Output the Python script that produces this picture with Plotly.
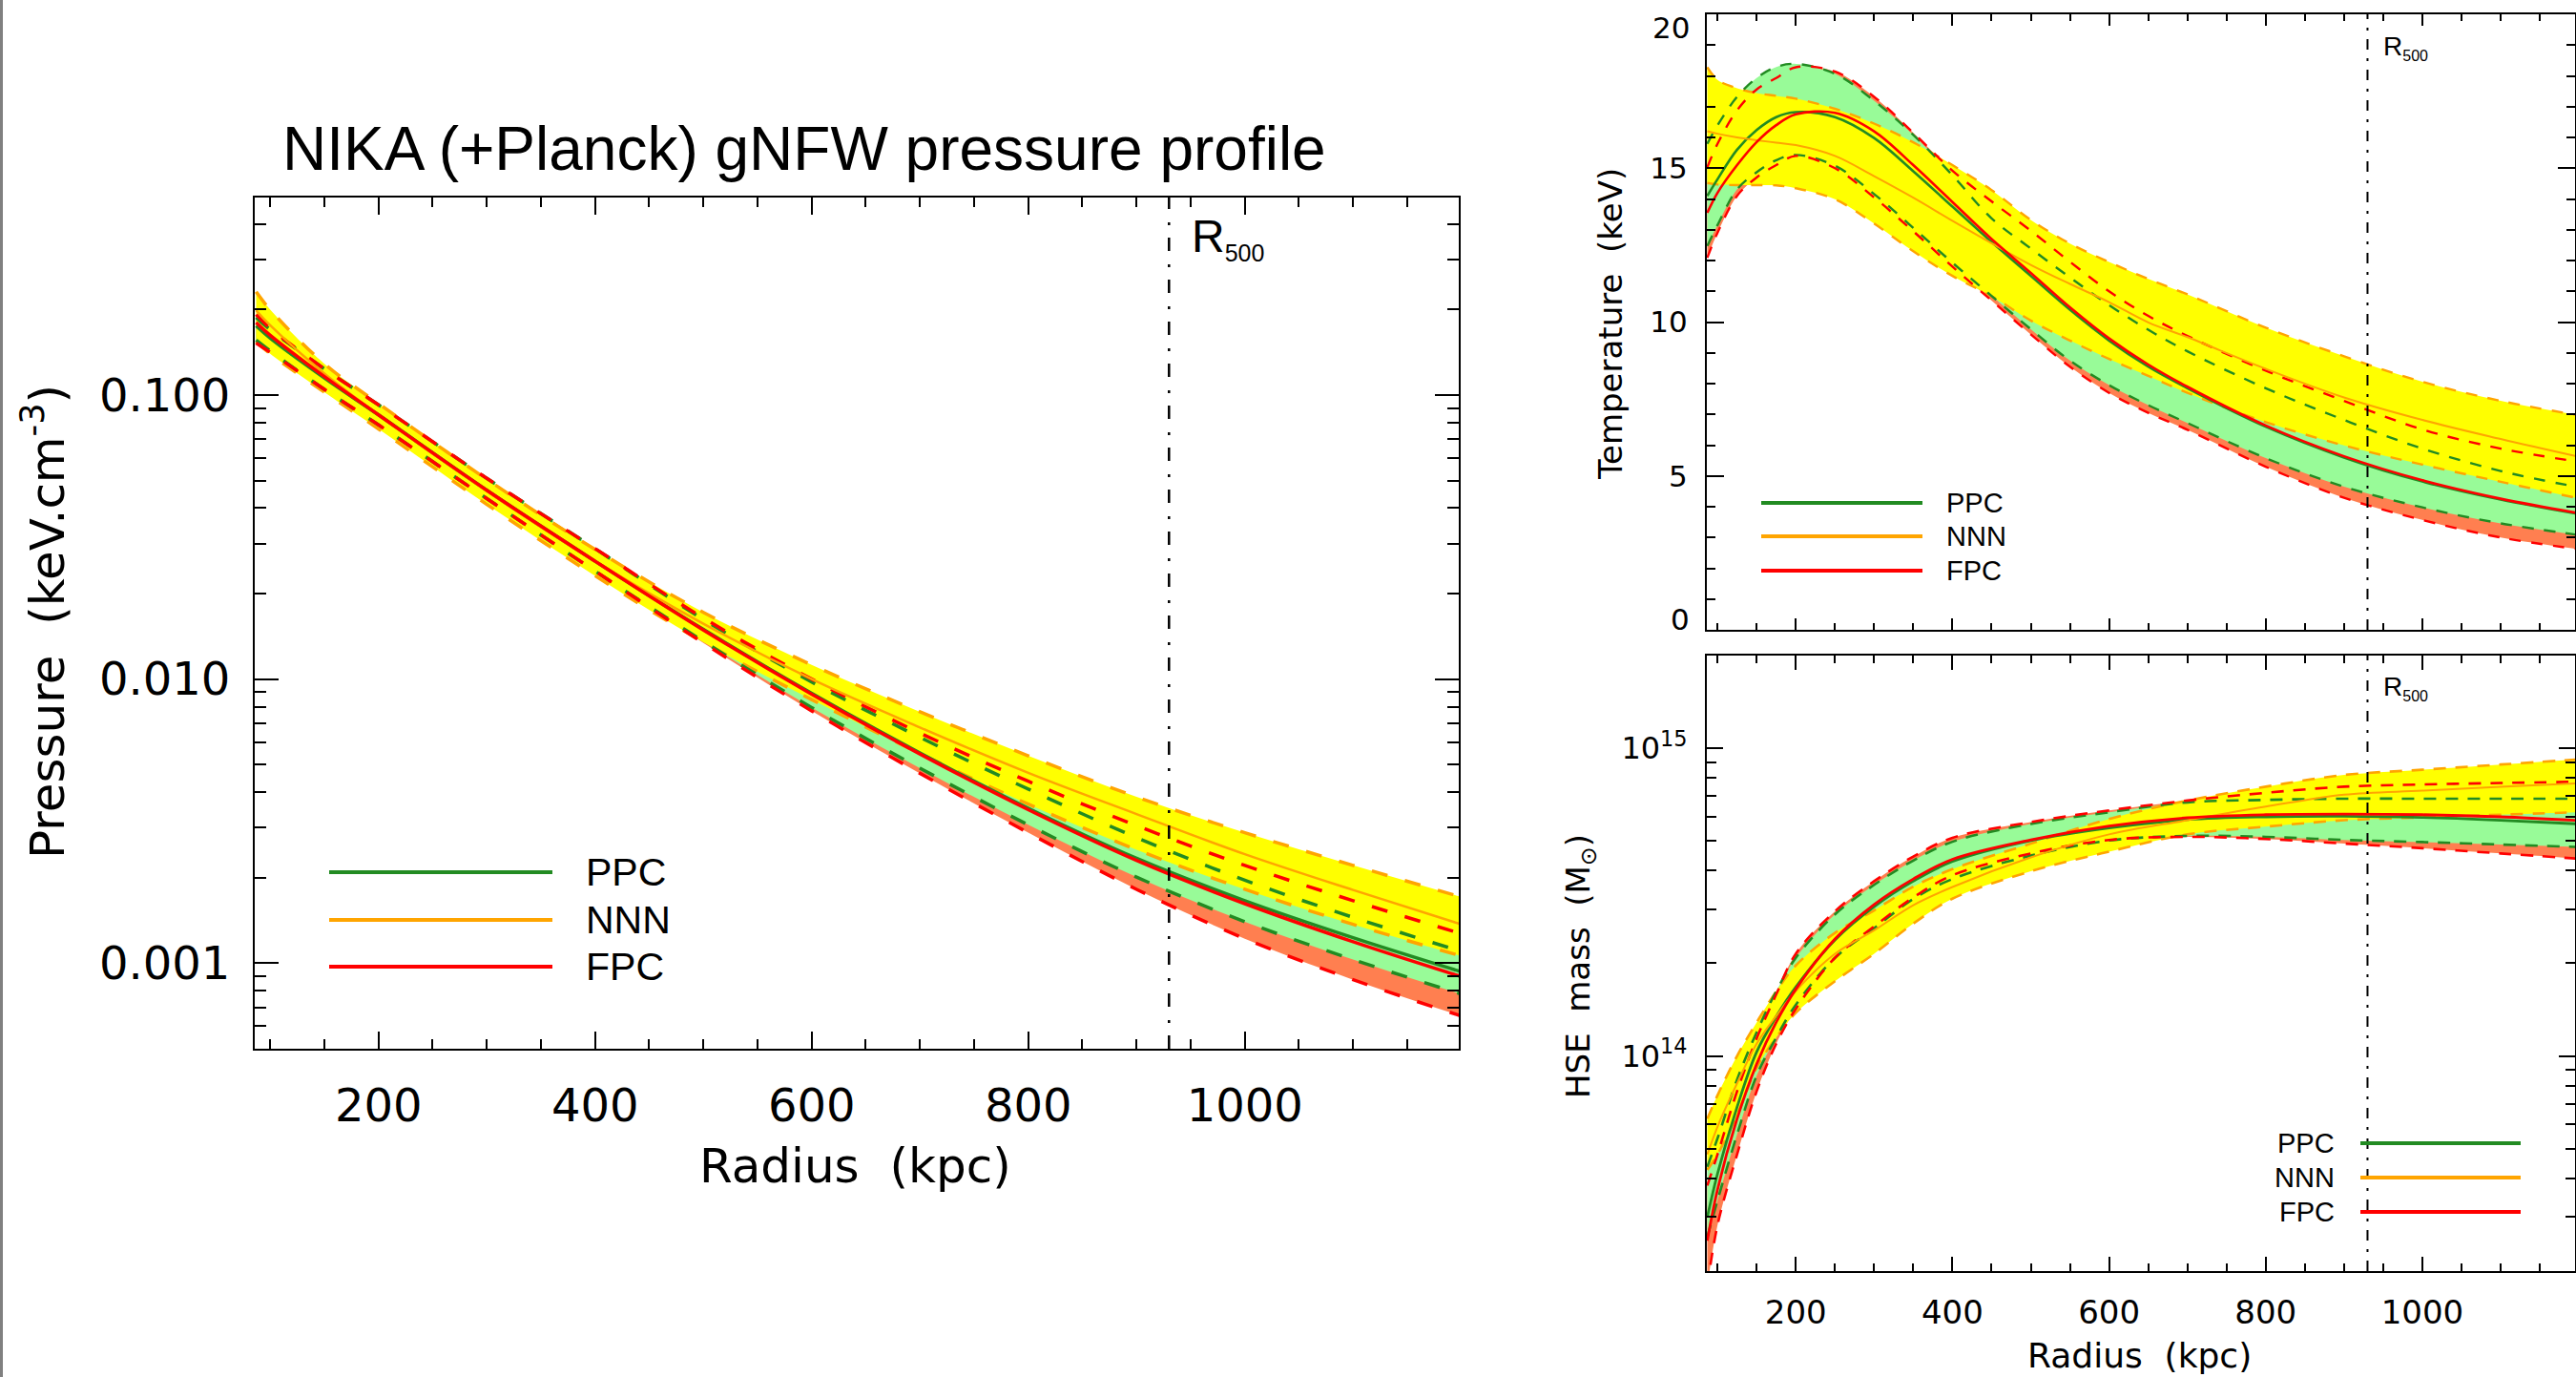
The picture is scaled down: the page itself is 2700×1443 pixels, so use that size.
import plotly.graph_objects as go

W, H = 2700, 1443

# ---------------- data ----------------
# Pressure profile (keV cm^-3)
radius_p = [87, 100, 150, 200, 300, 400, 500, 600, 700, 800, 900, 1000, 1100, 1200]
p_ppc    = [0.1750, 0.1585, 0.1148, 0.0851, 0.0462, 0.0260, 0.01496, 0.00891, 0.00550, 0.00351, 0.00234, 0.00166, 0.00123, 0.000933]
p_ppc_hi = [0.1875, 0.1698, 0.1236, 0.0923, 0.0509, 0.0288, 0.01622, 0.00977, 0.00624, 0.00410, 0.00277, 0.00196, 0.00145, 0.00110]
p_ppc_lo = [0.1560, 0.1429, 0.1047, 0.0785, 0.0432, 0.0240, 0.01358, 0.00794, 0.00486, 0.00307, 0.00201, 0.00140, 0.00103, 0.000778]
p_nnn    = [0.1986, 0.1758, 0.1189, 0.0851, 0.0459, 0.0260, 0.01567, 0.01000, 0.00676, 0.00468, 0.00335, 0.00242, 0.00181, 0.00137]
p_nnn_hi = [0.2307, 0.1995, 0.1288, 0.0933, 0.0505, 0.0286, 0.01718, 0.01122, 0.00767, 0.00537, 0.00385, 0.00288, 0.00221, 0.00171]
p_nnn_lo = [0.1542, 0.1396, 0.1023, 0.0759, 0.0412, 0.0231, 0.01349, 0.00847, 0.00547, 0.00363, 0.00251, 0.00182, 0.00137, 0.00106]
p_fpc    = [0.1799, 0.1622, 0.1161, 0.0851, 0.0462, 0.0260, 0.01489, 0.00885, 0.00545, 0.00347, 0.00230, 0.00162, 0.00119, 0.000897]
p_fpc_hi = [0.1919, 0.1718, 0.1236, 0.0923, 0.0509, 0.0288, 0.01641, 0.01000, 0.00646, 0.00437, 0.00305, 0.00221, 0.00166, 0.00127]
p_fpc_lo = [0.1524, 0.1413, 0.1047, 0.0785, 0.0432, 0.0240, 0.01340, 0.00773, 0.00466, 0.00288, 0.00182, 0.00122, 0.000875, 0.000652]

# Temperature profile (keV)
radius_t = [87, 100, 125, 150, 175, 200, 250, 300, 350, 400, 450, 500, 550, 600, 650, 700, 800, 900, 1000, 1100, 1200]
t_ppc    = [14.1, 14.64, 15.6, 16.24, 16.66, 16.82, 16.66, 15.98, 14.9, 13.75, 12.6, 11.5, 10.4, 9.4, 8.55, 7.85, 6.6, 5.6, 4.82, 4.23, 3.76]
t_ppc_hi = [15.79, 16.39, 17.32, 17.93, 18.29, 18.39, 18.07, 17.19, 16.08, 14.77, 13.37, 12.39, 11.45, 10.55, 9.75, 9.05, 7.85, 6.82, 5.89, 5.16, 4.63]
t_ppc_lo = [12.47, 13.15, 14.31, 14.87, 15.26, 15.43, 15.08, 14.16, 13.06, 11.93, 10.85, 9.77, 8.75, 7.95, 7.3, 6.72, 5.58, 4.65, 3.98, 3.46, 3.08]
t_nnn    = [16.2, 16.12, 16.0, 15.91, 15.83, 15.75, 15.4, 14.74, 14.04, 13.29, 12.56, 11.86, 11.24, 10.65, 9.99, 9.51, 8.48, 7.55, 6.82, 6.2, 5.62]
t_nnn_hi = [18.28, 17.87, 17.6, 17.44, 17.35, 17.26, 16.93, 16.45, 15.84, 15.1, 14.29, 13.32, 12.55, 11.95, 11.4, 10.9, 9.82, 8.89, 8.06, 7.44, 6.97]
t_nnn_lo = [14.52, 14.47, 14.45, 14.45, 14.44, 14.35, 13.99, 13.2, 12.3, 11.5, 10.84, 10.05, 9.4, 8.8, 8.25, 7.7, 6.75, 5.99, 5.37, 4.81, 4.27]
t_fpc    = [13.55, 14.2, 15.1, 15.85, 16.4, 16.75, 16.8, 16.2, 15.1, 13.9, 12.7, 11.6, 10.48, 9.47, 8.62, 7.9, 6.64, 5.64, 4.86, 4.26, 3.79]
t_fpc_hi = [15.03, 15.79, 16.88, 17.56, 17.93, 18.28, 18.14, 17.32, 16.15, 14.92, 13.92, 12.97, 11.96, 11.0, 10.2, 9.55, 8.42, 7.44, 6.51, 5.89, 5.46]
t_fpc_lo = [12.09, 12.9, 14.1, 14.7, 15.1, 15.4, 15.0, 14.05, 12.95, 11.8, 10.7, 9.6, 8.55, 7.7, 7.05, 6.5, 5.3, 4.29, 3.57, 3.0, 2.62]

# Hydrostatic mass profile (M_sun)
radius_m = [87, 100, 125, 150, 175, 200, 250, 300, 350, 400, 500, 600, 700, 800, 900, 1000, 1100, 1200]
m_ppc    = [2.99e13, 4.14e13, 6.82e13, 1.03e14, 1.343e14, 1.675e14, 2.382e14, 3.055e14, 3.698e14, 4.285e14, 5.012e14, 5.508e14, 5.861e14, 5.984e14, 6.012e14, 5.957e14, 5.834e14, 5.675e14]
m_ppc_hi = [4.365e13, 5.395e13, 8.375e13, 1.194e14, 1.622e14, 2.084e14, 2.884e14, 3.597e14, 4.315e14, 4.966e14, 5.675e14, 6.194e14, 6.668e14, 6.792e14, 6.855e14, 6.855e14, 6.855e14, 6.855e14]
m_ppc_lo = [2.582e13, 3.388e13, 5.559e13, 8.63e13, 1.148e14, 1.466e14, 2.084e14, 2.6e14, 3.236e14, 3.758e14, 4.477e14, 5.012e14, 5.188e14, 5.152e14, 5.035e14, 4.955e14, 4.864e14, 4.775e14]
m_nnn    = [4.786e13, 5.888e13, 8.147e13, 1.096e14, 1.349e14, 1.626e14, 2.148e14, 2.559e14, 3.09e14, 3.54e14, 4.416e14, 5.248e14, 5.834e14, 6.457e14, 7.063e14, 7.278e14, 7.499e14, 7.691e14]
m_nnn_hi = [6.252e13, 7.447e13, 1.0e14, 1.285e14, 1.622e14, 1.968e14, 2.512e14, 2.972e14, 3.548e14, 4.046e14, 4.898e14, 5.888e14, 6.761e14, 7.499e14, 8.185e14, 8.511e14, 8.851e14, 9.204e14]
m_nnn_lo = [4.266e13, 4.786e13, 6.427e13, 9.162e13, 1.148e14, 1.38e14, 1.75e14, 2.148e14, 2.692e14, 3.243e14, 3.981e14, 4.613e14, 5.248e14, 5.559e14, 5.834e14, 5.957e14, 6.081e14, 6.194e14]
m_fpc    = [2.51e13, 3.68e13, 6.25e13, 9.42e13, 1.288e14, 1.648e14, 2.399e14, 3.105e14, 3.758e14, 4.355e14, 5.035e14, 5.585e14, 5.943e14, 6.081e14, 6.109e14, 6.081e14, 5.984e14, 5.821e14]
m_fpc_hi = [3.793e13, 4.786e13, 7.674e13, 1.14e14, 1.585e14, 2.148e14, 2.951e14, 3.698e14, 4.446e14, 5.117e14, 5.754e14, 6.281e14, 6.761e14, 7.161e14, 7.499e14, 7.621e14, 7.709e14, 7.78e14]
m_fpc_lo = [1.778e13, 2.818e13, 4.786e13, 7.674e13, 1.096e14, 1.422e14, 2.084e14, 2.636e14, 3.273e14, 3.864e14, 4.55e14, 5.035e14, 5.152e14, 5.07e14, 4.898e14, 4.732e14, 4.55e14, 4.375e14]

r500 = 930
model_names = ["PPC", "NNN", "FPC"]

# ---------------- style ----------------
GREEN, ORANGE, RED = "#228B22", "#FFA500", "#FF0000"
PALEGREEN, YELLOW, CORAL = "#98FB98", "#FFFF00", "#FF7F50"
model_colors = [GREEN, ORANGE, RED]
F_NUM = "DejaVu Sans"
F_TXT = "Liberation Sans"


def px(x):
    return x / W


def py(y):
    return 1 - y / H


fig = go.Figure()


def add_panel(xa, ya, r, ppc, ppc_hi, ppc_lo, nnn, nnn_hi, nnn_lo,
              fpc, fpc_hi, fpc_lo, dash, dw, sw, nw):
    base = dict(x=r, xaxis=xa, yaxis=ya, mode="lines", showlegend=False,
                hoverinfo="skip")
    for hi, lo, fc in ((fpc_hi, fpc_lo, CORAL), (ppc_hi, ppc_lo, PALEGREEN),
                       (nnn_hi, nnn_lo, YELLOW)):
        fig.add_trace(go.Scatter(y=hi, line=dict(width=0, shape="spline"), **base))
        fig.add_trace(go.Scatter(y=lo, line=dict(width=0, shape="spline"),
                                 fill="tonexty", fillcolor=fc, **base))
    for arr, c in ((nnn_hi, ORANGE), (nnn_lo, ORANGE), (ppc_hi, GREEN),
                   (ppc_lo, GREEN), (fpc_hi, RED), (fpc_lo, RED)):
        fig.add_trace(go.Scatter(y=arr, line=dict(color=c, width=dw, dash=dash,
                                                  shape="spline"), **base))
    for arr, c, w in ((ppc, GREEN, sw), (nnn, ORANGE, nw), (fpc, RED, sw)):
        fig.add_trace(go.Scatter(y=arr, line=dict(color=c, width=w, shape="spline"),
                                 **base))


add_panel("x", "y", radius_p, p_ppc, p_ppc_hi, p_ppc_lo, p_nnn, p_nnn_hi, p_nnn_lo,
          p_fpc, p_fpc_hi, p_fpc_lo, "17px,19px", 3.5, 3.5, 2.5)
add_panel("x2", "y2", radius_t, t_ppc, t_ppc_hi, t_ppc_lo, t_nnn, t_nnn_hi, t_nnn_lo,
          t_fpc, t_fpc_hi, t_fpc_lo, "12px,11px", 2.4, 2.6, 2.0)
add_panel("x3", "y3", radius_m, m_ppc, m_ppc_hi, m_ppc_lo, m_nnn, m_nnn_hi, m_nnn_lo,
          m_fpc, m_fpc_hi, m_fpc_lo, "13px,10px", 2.6, 2.8, 2.0)

# ---------------- axes ----------------
ax_common = dict(showline=True, linecolor="black", linewidth=2, mirror="allticks",
                 ticks="inside", tickcolor="black", tickwidth=2, showgrid=False,
                 zeroline=False)

x_major = [200, 400, 600, 800, 1000]
x_minor = [v for v in range(100, 1200, 50) if v % 200 != 0]
p_minor = [k * 10.0 ** e for e in (-4, -3, -2, -1) for k in range(2, 10)]
p_minor = [v for v in p_minor if 5e-4 < v < 0.5]
t_minor = [v for v in range(1, 20) if v % 5 != 0]
m_minor = [k * 10.0 ** e for e in (13, 14, 15) for k in range(2, 10)]
m_minor = [v for v in m_minor if 2e13 < v < 2e15]

dom_x_left = [px(267), px(1529)]
dom_x_right = [px(1789), px(2699)]

fig.update_layout(
    width=W, height=H, margin=dict(l=0, r=0, t=0, b=0), autosize=False,
    paper_bgcolor="white", plot_bgcolor="white", showlegend=False,
    xaxis=dict(domain=dom_x_left, range=[85.7, 1197.6], anchor="y",
               tickvals=x_major, ticklen=18,
               minor=dict(tickvals=x_minor, ticklen=10, ticks="inside",
                          tickcolor="black", tickwidth=2),
               tickfont=dict(family=F_NUM, size=48, color="black"),
               ticklabelstandoff=16, **ax_common),
    yaxis=dict(domain=[py(1099), py(207)], type="log", range=[-3.301, -0.305],
               anchor="x", tickvals=[0.001, 0.01, 0.1],
               ticktext=["0.001", "0.010", "0.100"], ticklen=25,
               minor=dict(tickvals=p_minor, ticklen=12, ticks="inside",
                          tickcolor="black", tickwidth=2),
               tickfont=dict(family=F_NUM, size=48, color="black"),
               ticklabelstandoff=14, **ax_common),
    xaxis2=dict(domain=dom_x_right, range=[86.4, 1195], anchor="y2",
                tickvals=x_major, ticklen=12, showticklabels=False,
                minor=dict(tickvals=x_minor, ticklen=7, ticks="inside",
                           tickcolor="black", tickwidth=2),
                **ax_common),
    yaxis2=dict(domain=[py(660), py(15)], range=[0, 20], anchor="x2",
                tickvals=[0, 5, 10, 15, 20], ticktext=["", "5", "10", "15", ""],
                ticklen=18,
                minor=dict(tickvals=t_minor, ticklen=9, ticks="inside",
                           tickcolor="black", tickwidth=2),
                tickfont=dict(family=F_NUM, size=31, color="black"),
                ticklabelstandoff=12, **ax_common),
    xaxis3=dict(domain=dom_x_right, range=[86.4, 1195], anchor="y3",
                tickvals=x_major, ticklen=15,
                minor=dict(tickvals=x_minor, ticklen=8, ticks="inside",
                           tickcolor="black", tickwidth=2),
                tickfont=dict(family=F_NUM, size=34, color="black"),
                ticklabelstandoff=12, **ax_common),
    yaxis3=dict(domain=[py(1332), py(687)], type="log", range=[13.301, 15.301],
                anchor="x3", tickvals=[1e14, 1e15],
                ticktext=["10<sup>14</sup>", "10<sup>15</sup>"], ticklen=17,
                minor=dict(tickvals=m_minor, ticklen=10, ticks="inside",
                           tickcolor="black", tickwidth=2),
                tickfont=dict(family=F_NUM, size=32, color="black"),
                ticklabelstandoff=12, **ax_common),
)

shapes = []
annotations = []

# R500 lines and labels
for xa, ya, dash, w in (("x", "y", "14px,13px,3px,14px", 2.5),
                        ("x2", "y2", "11px,9px,3px,9px", 2.0),
                        ("x3", "y3", "11px,9px,3px,9px", 2.0)):
    shapes.append(dict(type="line", xref=xa, yref=ya + " domain", x0=r500, x1=r500,
                       y0=0, y1=1, line=dict(color="black", width=w, dash=dash)))

annotations.append(dict(xref="paper", yref="paper", x=px(1247), y=py(219),
                        xanchor="left", yanchor="top", showarrow=False,
                        text="R<sub><span style='font-size:25px'>500</span></sub>",
                        font=dict(family=F_TXT, size=48, color="black")))
for ytop in (31, 702):
    annotations.append(dict(xref="paper", yref="paper", x=px(2496), y=py(ytop),
                            xanchor="left", yanchor="top", showarrow=False,
                            text="R<sub><span style='font-size:16px'>500</span></sub>",
                            font=dict(family=F_TXT, size=28, color="black")))

# Title
annotations.append(dict(xref="paper", yref="paper", x=px(843), y=py(156),
                        xanchor="center", yanchor="middle", showarrow=False,
                        text="NIKA (+Planck) gNFW pressure profile",
                        font=dict(family=F_TXT, size=64, color="black")))

# axis titles
annotations += [
    dict(xref="paper", yref="paper", x=px(897), y=py(1222), xanchor="center",
         yanchor="middle", showarrow=False, text="Radius\u00a0 (kpc)",
         font=dict(family=F_NUM, size=50, color="black")),
    dict(xref="paper", yref="paper", x=px(2242), y=py(1420), xanchor="center",
         yanchor="middle", showarrow=False, text="Radius\u00a0 (kpc)",
         font=dict(family=F_NUM, size=36, color="black")),
    dict(xref="paper", yref="paper", x=px(46), y=py(652), xanchor="center",
         yanchor="middle", showarrow=False, textangle=-90,
         text="Pressure\u00a0 (keV.cm<sup>-3</sup>)",
         font=dict(family=F_NUM, size=50, color="black")),
    dict(xref="paper", yref="paper", x=px(1688), y=py(340), xanchor="center",
         yanchor="middle", showarrow=False, textangle=-90,
         text="Temperature\u00a0 (keV)",
         font=dict(family=F_NUM, size=34, color="black")),
    dict(xref="paper", yref="paper", x=px(1656), y=py(1012), xanchor="center",
         yanchor="middle", showarrow=False, textangle=-90,
         text="HSE\u00a0 mass\u00a0 (M<sub>\u2299</sub>)",
         font=dict(family=F_NUM, size=34, color="black")),
    # extreme temperature tick labels, kept inside the frame like the original
    dict(xref="paper", yref="paper", x=px(1773), y=py(29), xanchor="right",
         yanchor="middle", showarrow=False, text="20",
         font=dict(family=F_NUM, size=31, color="black")),
    dict(xref="paper", yref="paper", x=px(1773), y=py(649), xanchor="right",
         yanchor="middle", showarrow=False, text="0",
         font=dict(family=F_NUM, size=31, color="black")),
]

# legends (line samples + labels)
leg_specs = [
    # x0, x1, ys, text x, anchor, font size
    (345, 579, (914, 964, 1013), 612, "left", 41),
    (1846, 2015, (527, 562, 598), 2038, "left", 29),
    (2474, 2642, (1198, 1234, 1270), 2449, "right", 29),
]
for x0, x1, ys, tx, anc, fs in leg_specs:
    for name, col, yy in zip(model_names, model_colors, ys):
        shapes.append(dict(type="line", xref="paper", yref="paper", x0=px(x0), x1=px(x1),
                           y0=py(yy), y1=py(yy), line=dict(color=col, width=4)))
        annotations.append(dict(xref="paper", yref="paper", x=px(tx), y=py(yy),
                                xanchor=anc, yanchor="middle", showarrow=False,
                                text=name, font=dict(family=F_TXT, size=fs, color="black")))

# grey frame line on the far left of the page
shapes.append(dict(type="line", xref="paper", yref="paper", x0=px(1.5), x1=px(1.5),
                   y0=0, y1=1, line=dict(color="#808080", width=3)))

fig.update_layout(shapes=shapes, annotations=annotations)
fig.write_html("out.html")
